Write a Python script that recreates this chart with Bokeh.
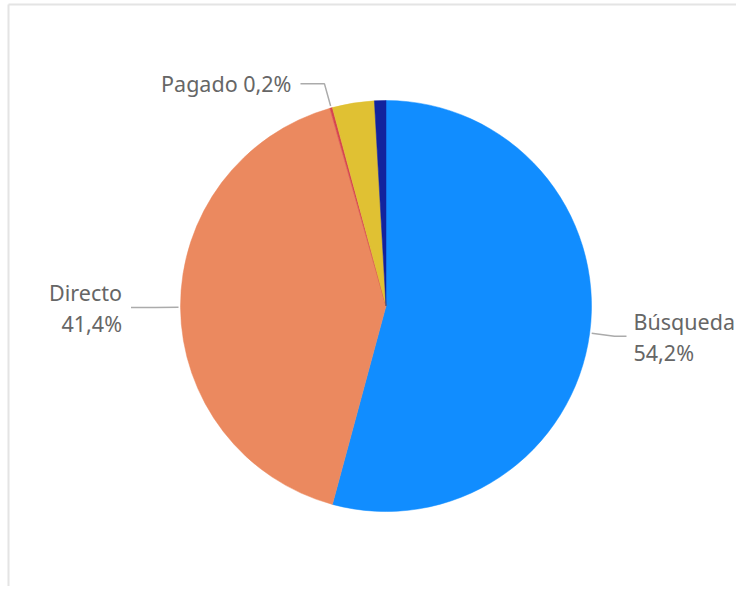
import math
from bokeh.plotting import figure
from bokeh.models import Range1d, ColumnDataSource
from bokeh.core.properties import value
from bokeh.embed import file_html
from bokeh.resources import INLINE

# ---- data ----
categories = ["Búsqueda", "Directo", "Pagado", "Referencia", "Social"]
shares = [54.2, 41.4, 0.2, 3.3, 0.9]
colors = ["#118DFF", "#EB895F", "#D64550", "#E0C133", "#12239E"]
labelled = ["Búsqueda", "Directo", "Pagado"]

# ---- layout (figure pixels) ----
W, H = 736, 586
cx_px, cy_px, R = 385.5, 305.5, 205.5
cx, cy = cx_px, H - cy_px

p = figure(width=W, height=H, output_backend="svg", toolbar_location=None,
           x_range=Range1d(0, W), y_range=Range1d(0, H), min_border=0)
p.axis.visible = False
p.grid.visible = False
p.outline_line_color = None
p.background_fill_color = "white"

# page border (light)
p.segment(x0=[8, 8], y0=[H - 4, H - 4], x1=[8, W], y1=[0, H - 4],
          line_color="#e4e4e4", line_width=2)

total = sum(shares)
starts, ends, mids = [], [], []
cum = 0.0
for s in shares:
    a0 = cum / total
    cum += s
    a1 = cum / total
    starts.append(math.pi / 2 - a0 * 2 * math.pi)
    ends.append(math.pi / 2 - a1 * 2 * math.pi)
    mids.append((a0 + a1) / 2 * 2 * math.pi)  # clockwise from top

src = ColumnDataSource(dict(start=starts, end=ends, color=colors, cat=categories))
p.wedge(x=cx, y=cy, radius=R, radius_units="screen", start_angle="start", end_angle="end",
        direction="clock", fill_color="color", line_color="color", line_width=0.5, source=src)

def fmt(v):
    return f"{v:.1f}".replace(".", ",") + "%"

font = value("Noto Sans")
FS = "21.5px"
TXT = "#666666"
LINE = "#ababab"
hseg = {"Búsqueda": 12, "Directo": 24.5, "Pagado": 24}
gap = {"Búsqueda": 7, "Directo": 9, "Pagado": 9}
for i, cat in enumerate(categories):
    if cat not in labelled:
        continue
    th = mids[i]
    dx, dy = math.sin(th), math.cos(th)
    x0, y0 = cx + (R + 2) * dx, cy + (R + 2) * dy
    x1, y1 = cx + (R + 25) * dx, cy + (R + 25) * dy
    side = 1 if dx >= 0 else -1
    x2, y2 = x1 + side * hseg[cat], y1
    p.line(x=[x0, x1, x2], y=[y0, y1, y2], line_color=LINE, line_width=1.5)
    tx = x2 + side * gap[cat]
    align = "left" if side > 0 else "right"
    if cat == "Pagado":
        p.text(x=[tx], y=[y2], text=[f"{cat} {fmt(shares[i])}"], text_align=align,
               text_baseline="middle", text_font=font, text_font_size=FS, text_color=TXT)
    else:
        p.text(x=[tx], y=[y2 + 15], text=[cat], text_align=align,
               text_baseline="alphabetic", text_font=font, text_font_size=FS, text_color=TXT)
        p.text(x=[tx], y=[y2 - 16.5], text=[fmt(shares[i])], text_align=align,
               text_baseline="alphabetic", text_font=font, text_font_size=FS, text_color=TXT)

open("out.html", "w").write(file_html(p, INLINE))
